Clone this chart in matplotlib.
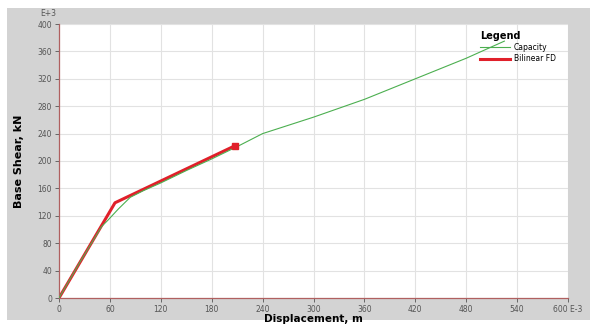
import matplotlib
matplotlib.use("Agg")
import matplotlib.pyplot as plt
from matplotlib.patches import Rectangle

# displacement in E-3 m, base shear in E+3 kN
cap_disp = [0, 25, 50, 58, 70, 84, 100, 120, 150, 180, 210, 240, 300, 360, 420, 480, 525]
cap_shear = [0, 53, 104, 114, 130, 147, 157, 168, 186, 203, 221, 240, 264, 290, 320, 350, 375]

bil_disp = [0, 66, 207]
bil_shear = [0, 139, 222]

x_ticks = list(range(0, 601, 60))
y_ticks = list(range(0, 401, 40))

fig = plt.figure(figsize=(5.96, 3.24), dpi=100)
fig.patch.set_facecolor("white")
fig.patches.append(Rectangle((7 / 596, 4 / 324), 583 / 596, 312 / 324,
                             transform=fig.transFigure, facecolor="#d3d3d3",
                             edgecolor="none", zorder=-10))

ax = fig.add_axes([59 / 596, 26 / 324, 509 / 596, 274 / 324])
ax.set_facecolor("white")

ax.plot(cap_disp, cap_shear, color="#4caf50", linewidth=0.8, label="Capacity", zorder=3)
ax.plot(bil_disp, bil_shear, color="#e0202a", linewidth=2.2, label="Bilinear FD", zorder=2)
ax.plot(bil_disp[-1:], bil_shear[-1:], marker="s", color="#e0202a", markersize=4, zorder=4)

ax.set_xlim(0, 600)
ax.set_ylim(0, 400)
ax.set_xticks(x_ticks)
ax.set_yticks(y_ticks)
ax.set_xticklabels([str(t) for t in x_ticks[:-1]] + ["600 E-3"])
ax.tick_params(labelsize=5.5, labelcolor="#555555", color="#555555", length=3, width=0.6, pad=2)
ax.grid(color="#e2e2e2", linewidth=0.8)
ax.set_axisbelow(True)
for side in ("top", "right"):
    ax.spines[side].set_visible(False)
for side in ("left", "bottom"):
    ax.spines[side].set_color("#b06060")
    ax.spines[side].set_linewidth(0.9)

fig.text(48 / 596, 1 - 13 / 324, "E+3", fontsize=5.5, color="#555555", ha="center", va="center")

ax.set_xlabel("Displacement, m", fontsize=7.5, fontweight="bold", labelpad=0)
ax.set_ylabel("Base Shear, kN", fontsize=8, fontweight="bold", labelpad=10,
              family=["Liberation Sans Narrow", "DejaVu Sans"])

leg = ax.legend(loc="upper right", bbox_to_anchor=(0.99, 1.0), frameon=False,
                title="Legend", fontsize=5.5, handlelength=4.0, handletextpad=0.5,
                labelspacing=0.3)
leg.get_title().set_fontweight("bold")
leg.get_title().set_fontsize(7)
leg._legend_box.align = "left"

fig.savefig("out.png", dpi=100)
